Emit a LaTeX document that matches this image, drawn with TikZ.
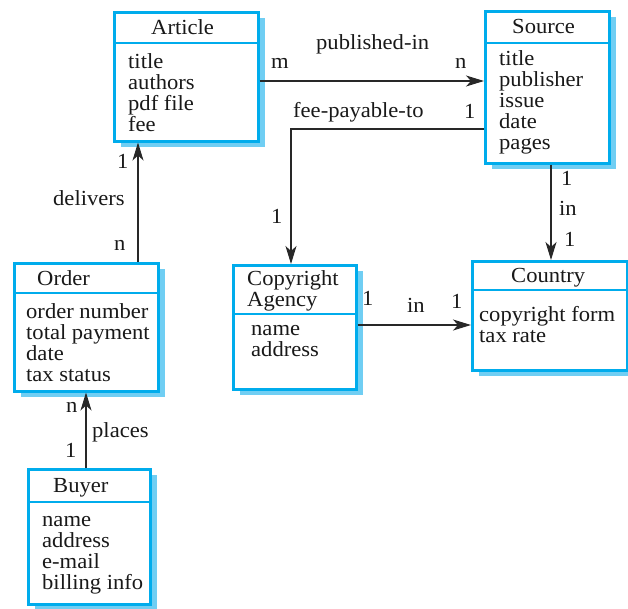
\documentclass[tikz,border=0pt]{standalone}
\usepackage{fontspec}
\setmainfont{Liberation Serif}[FakeStretch=1.05]
\usetikzlibrary{arrows.meta,shadows}
\definecolor{boxcyan}{RGB}{0,172,236}
\definecolor{shadecyan}{RGB}{112,206,243}
\definecolor{linegray}{RGB}{40,40,40}
% stacked lines, baseline of the whole block = baseline of its first line
\newcommand{\attrlist}[1]{\vtop{\baselineskip=21pt\lineskiplimit=-50pt\lineskip=0pt\halign{##\hfil\cr#1\crcr}}}

\begin{document}
\begin{tikzpicture}[x=1pt,y=-1pt,
  font=\fontsize{21.5}{21}\selectfont,
  classbox/.style={draw=boxcyan, line width=2.5pt, fill=white, rectangle,
    inner sep=0pt, anchor=north west,
    drop shadow={shadow xshift=7pt, shadow yshift=-6pt, fill=shadecyan, opacity=1}},
  divider/.style={draw=boxcyan, line width=2.5pt},
  txt/.style={inner sep=0pt, anchor=base west, text=black!90},
  conn/.style={draw=linegray, line width=1.3pt,
    -{Stealth[length=18pt,width=11pt,inset=5pt]}},
]
\useasboundingbox (0,0) rectangle (628,608);

% ---- class boxes ----
\node[classbox, minimum width=144pt, minimum height=129pt] (article) at (113,11) {};
\node[classbox, minimum width=124pt, minimum height=152pt] (source)  at (484,10) {};
\node[classbox, minimum width=144pt, minimum height=128pt] (order)   at (13,262) {};
\node[classbox, minimum width=122pt, minimum height=135pt] (buyer)   at (27,468) {};
\node[classbox, minimum width=123pt, minimum height=124pt] (agency)  at (232,264) {};
\node[classbox, minimum width=155pt, minimum height=109pt] (country) at (471,260) {};

% ---- header dividers ----
\draw[divider] (article.west |- 0,43) -- (article.east |- 0,43);
\draw[divider] (source.west |- 0,43) -- (source.east |- 0,43);
\draw[divider] (order.west |- 0,293) -- (order.east |- 0,293);
\draw[divider] (buyer.west |- 0,502) -- (buyer.east |- 0,502);
\draw[divider] (agency.west |- 0,314) -- (agency.east |- 0,314);
\draw[divider] (country.west |- 0,290) -- (country.east |- 0,290);

% ---- class names ----
\node[txt] (article-name) at (151,34) {Article};
\node[txt] (source-name)  at (512,33) {Source};
\node[txt] (order-name)   at (37,285) {Order};
\node[txt] (buyer-name)   at (53,492) {Buyer};
\node[txt] (agency-name)  at (247,285) {\attrlist{Copyright\cr Agency}};
\node[txt] (country-name) at (511,282) {Country};

% ---- attributes ----
\node[txt] (article-attr) at (128,68)  {\attrlist{title\cr authors\cr pdf file\cr fee}};
\node[txt] (source-attr)  at (499,65)  {\attrlist{title\cr publisher\cr issue\cr date\cr pages}};
\node[txt] (order-attr)   at (26,318)  {\attrlist{order number\cr total payment\cr date\cr tax status}};
\node[txt] (buyer-attr)   at (42,526)  {\attrlist{name\cr address\cr e-mail\cr billing info}};
\node[txt] (agency-attr)  at (251,335) {\attrlist{name\cr address}};
\node[txt] (country-attr) at (479,321) {\attrlist{copyright form\cr tax rate}};

% ---- associations ----
\draw[conn] (article.east |- 0,81) -- (source.west |- 0,81);
\draw[conn] (source.west |- 0,129) -| (agency.north -| 291,0);
\draw[conn] (source.south -| 551,0) -- (country.north -| 551,0);
\draw[conn] (agency.east |- 0,325) -- (country.west |- 0,325);
\draw[conn] (order.north -| 138,0) -- (article.south -| 138,0);
\draw[conn] (buyer.north -| 86,0) -- (order.south -| 86,0);

% ---- association names and multiplicities ----
\node[txt] (pub-name) at (316,49) {published-in};
\node[txt] (pub-m)    at (271,68) {m};
\node[txt] (pub-n)    at (455,68) {n};

\node[txt] (fee-name) at (293,117) {fee-payable-to};
\node[txt] (fee-src)  at (464,118) {1};
\node[txt] (fee-ag)   at (271,223) {1};

\node[txt] (del-name) at (53,205)  {delivers};
\node[txt] (del-art)  at (117,168) {1};
\node[txt] (del-ord)  at (114,250) {n};

\node[txt] (sin-src)  at (561,185) {1};
\node[txt] (sin-name) at (559,215) {in};
\node[txt] (sin-cty)  at (564,246) {1};

\node[txt] (ain-ag)   at (362,305) {1};
\node[txt] (ain-name) at (407,312) {in};
\node[txt] (ain-cty)  at (451,308) {1};

\node[txt] (pl-ord)   at (66,412)  {n};
\node[txt] (pl-name)  at (92,437)  {places};
\node[txt] (pl-buy)   at (65,457)  {1};
\end{tikzpicture}
\end{document}
